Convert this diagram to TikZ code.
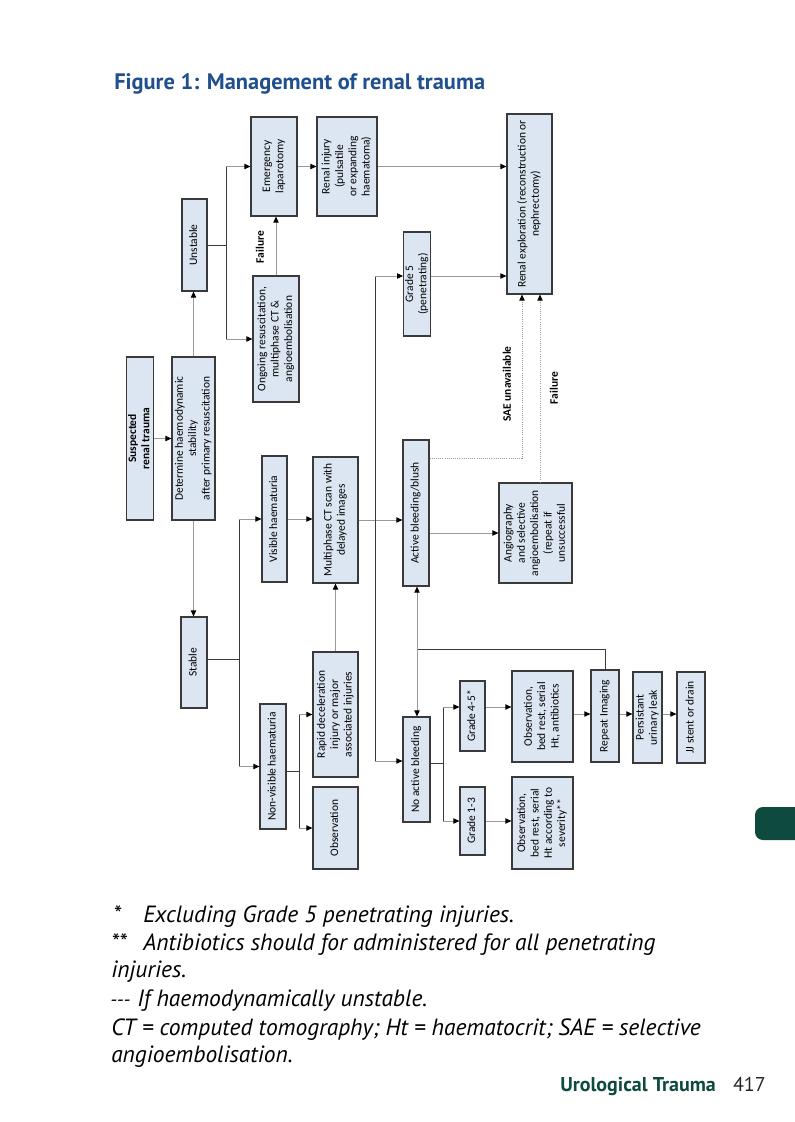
\documentclass[tikz,border=0pt]{standalone}
\usepackage{fontspec}
\setmainfont{Carlito}
\newfontfamily\ptsans{PT Sans}
\usetikzlibrary{arrows.meta}
\definecolor{boxfill}{HTML}{DCE6F2}
\definecolor{boxdraw}{HTML}{3A3A3A}
\definecolor{titleblue}{HTML}{1F4F8F}
\definecolor{footgreen}{HTML}{0E4A3E}
\definecolor{lnlight}{HTML}{9A9A9A}
\definecolor{lndark}{HTML}{3A3A3A}
\tikzset{
  bx/.style={draw=boxdraw, fill=boxfill, line width=0.9pt, inner sep=0pt, font=\fontsize{8.6}{10}\selectfont},
  arr/.style={draw=lnlight, line width=0.6pt, -{Triangle[length=4.5pt,width=4pt,color=black]}},
  tree/.style={draw=lndark, line width=0.7pt},
  dotarr/.style={draw=lnlight, line width=0.6pt, densely dotted, -{Triangle[length=4.5pt,width=4pt,color=black]}},
  lbl/.style={font=\fontsize{8.6}{9}\selectfont\bfseries, rotate=90, inner sep=0pt},
  foot/.style={font=\ptsans\itshape\fontsize{17.6}{20}\selectfont, anchor=base west, inner sep=0pt},
}
\newcommand\bnode[6]{\node[bx, minimum width={(#4-#2)*0.75pt}, minimum height={(#5-#3)*0.75pt}] (#1) at ({(#2+#4)/2},{(#3+#5)/2}) {\rotatebox{90}{\begin{tabular}{@{}c@{}}#6\end{tabular}}};}
\begin{document}
\begin{tikzpicture}[x=0.75pt,y=-0.75pt]
\useasboundingbox (0,0) rectangle (795,1122);
\fill[white] (0,0) rectangle (795,1122);
% title
\node[anchor=base west, inner sep=0pt, text=titleblue, font=\ptsans\bfseries\fontsize{16.8}{20}\selectfont] (title) at (114,89) {Figure 1: Management of renal trauma};
% boxes
\bnode{susp}{127}{357}{153}{520}{\textbf{Suspected}\\\textbf{renal trauma}}
\bnode{det}{172}{357}{215}{520}{Determine haemodynamic\\stability\\after primary resuscitation}
\bnode{unst}{182}{199}{207}{291}{Unstable}
\bnode{stab}{181}{617}{207}{708}{Stable}
\bnode{emerg}{251}{117}{297}{216}{Emergency\\laparotomy}
\bnode{renal}{317}{117}{377}{216}{Renal injury\\(pulsatile\\or expanding\\haematoma)}
\bnode{ongo}{253}{276}{299}{402}{Ongoing resuscitation,\\multiphase CT \&\\angioembolisation}
\bnode{explo}{507}{114}{552}{294}{Renal exploration (reconstruction or\\nephrectomy)}
\bnode{gfive}{404}{232}{430}{336}{Grade 5\\(penetrating)}
\bnode{active}{403}{440}{429}{586}{Active bleeding/blush}
\bnode{noact}{403}{717}{430}{822}{No active bleeding}
\bnode{angio}{499}{483}{572}{583}{Angiography\\and selective\\angioembolisation\\(repeat if\\unsuccessful}
\bnode{vis}{262}{456}{287}{582}{Visible haematuria}
\bnode{ct}{313}{457}{358}{583}{Multiphase CT scan with\\delayed images}
\bnode{nonvis}{260}{704}{286}{829}{Non-visible haematuria}
\bnode{rapid}{313}{652}{358}{777}{Rapid deceleration\\injury or major\\associated injuries}
\bnode{obs}{313}{787}{358}{869}{Observation}
\bnode{rep}{591}{670}{619}{762}{Repeat Imaging}
\bnode{gfourfive}{460}{681}{485}{751}{Grade 4-5*}
\bnode{gonethree}{460}{787}{485}{855}{Grade 1-3}
\bnode{obsa}{512}{671}{573}{762}{Observation,\\bed rest, serial\\Ht, antibiotics}
\bnode{obsb}{512}{777}{573}{869}{Observation,\\bed rest, serial\\Ht according to\\severity**}
\bnode{leak}{633}{672}{662}{763}{Persistant\\urinary leak}
\bnode{jj}{677}{672}{705}{763}{JJ stent or drain}
% connectors
\draw[arr] (susp.east) -- (susp.east -| det.west);
\draw[arr] (det.north) -- (det.north |- unst.south);
\draw[arr] (det.south) -- (det.south |- stab.north);
\coordinate (ju1) at (226,245);
\draw[tree] (unst.east |- ju1) -- (ju1);
\draw[tree] (ju1 |- emerg.west) -- (ju1 |- ongo.west);
\draw[arr] (ju1 |- emerg.west) -- (emerg.west);
\draw[arr] (ju1 |- ongo.west) -- (ongo.west);
\draw[arr] (ongo.north) -- (ongo.north |- emerg.south);
\node[lbl] (fail1) at (260,247) {Failure};
\draw[arr] (emerg.east) -- (emerg.east -| renal.west);
\draw[arr] (renal.east) -- (renal.east -| explo.west);
% trunk from CT
\draw[arr] (ct.east) -- (ct.east -| active.west);
\coordinate (gin) at (375,276);
\coordinate (nain) at (375,761);
\draw[tree] (gin) -- (nain);
\draw[arr] (gin) -- (gin -| gfive.west);
\draw[arr] (gin -| gfive.east) -- (gin -| explo.west);
\draw[arr] (nain) -- (nain -| noact.west);
% active bleeding
\draw[arr] (active.east |- angio.west) -- (angio.west);
\coordinate (sae) at (522,458);
\draw[dotarr] (active.east |- sae) -| (sae |- explo.south);
\node[lbl] (saelbl) at (507,384) {SAE unavailable};
\coordinate (ftwo) at (540,0);
\draw[dotarr] (angio.north -| ftwo) -- (explo.south -| ftwo);
\node[lbl] (fail2) at (554,388) {Failure};
% stable branch
\coordinate (ju2) at (239,659);
\draw[tree] (stab.east |- ju2) -- (ju2);
\draw[tree] (ju2 |- vis.west) -- (ju2 |- nonvis.west);
\draw[arr] (ju2 |- vis.west) -- (vis.west);
\draw[arr] (ju2 |- nonvis.west) -- (nonvis.west);
\draw[arr] (vis.east) -- (vis.east -| ct.west);
\coordinate (ju3) at (299,771);
\draw[tree] (nonvis.east |- ju3) -- (ju3);
\draw[tree] (ju3 |- rapid.west) -- (ju3 |- obs.west);
\draw[arr] (ju3 |- rapid.west) -- (rapid.west);
\draw[arr] (ju3 |- obs.west) -- (obs.west);
\draw[arr] (rapid.north) -- (rapid.north |- ct.south);
% repeat loop
\coordinate (lp) at (417,649);
\draw[tree] (rep.north) |- (lp);
\draw[arr] (lp) -- (lp |- active.south);
\draw[arr] (lp) -- (lp |- noact.north);
% no active bleeding branch
\coordinate (ju4) at (443,763);
\coordinate (gy) at (0,707);
\coordinate (ry) at (0,714);
\draw[tree] (noact.east |- ju4) -- (ju4);
\draw[tree] (ju4 |- gy) -- (ju4 |- gonethree.west);
\draw[arr] (ju4 |- gy) -- (gfourfive.west |- gy);
\draw[arr] (ju4 |- gonethree.west) -- (gonethree.west);
\draw[arr] (gfourfive.east |- gy) -- (obsa.west |- gy);
\draw[arr] (gonethree.east) -- (gonethree.east -| obsb.west);
\draw[arr] (obsa.east |- ry) -- (rep.west |- ry);
\draw[arr] (rep.east |- ry) -- (leak.west |- ry);
\draw[arr] (leak.east |- ry) -- (jj.west |- ry);
% footnotes
\node[foot] (fa) at (113,922) {*};
\node[foot] (fb) at (143,922) {Excluding Grade 5 penetrating injuries.};
\node[foot] (fc) at (111,950) {**};
\node[foot] (fd) at (143,950) {Antibiotics should for administered for all penetrating};
\node[foot] (fe) at (111,977) {injuries.};
\node[foot, font=\ptsans\itshape\fontsize{15}{18}\selectfont] (ff) at (110,1006) {---};
\node[foot] (fg) at (137,1006) {If haemodynamically unstable.};
\node[foot] (fh) at (111,1035) {CT = computed tomography; Ht = haematocrit; SAE = selective};
\node[foot] (fi) at (111,1062) {angioembolisation.};
% footer
\node[anchor=base west, inner sep=0pt, text=footgreen, font=\ptsans\bfseries\fontsize{15}{18}\selectfont] (foota) at (560,1091) {Urological Trauma};
\node[anchor=base east, inner sep=0pt, text=black!85, font=\ptsans\fontsize{15}{18}\selectfont] (footb) at (766,1091) {417};
\fill[footgreen, rounded corners=6pt] (755,807) rectangle (810,840);
\end{tikzpicture}
\end{document}
